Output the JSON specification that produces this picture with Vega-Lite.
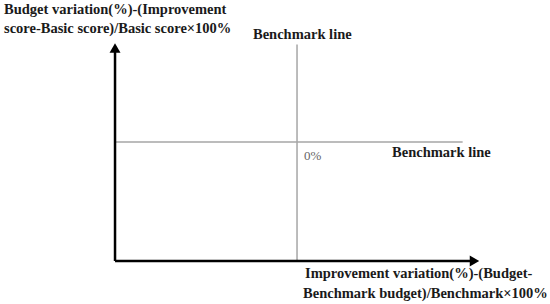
{
  "$schema": "https://vega.github.io/schema/vega-lite/v6.json",
  "width": 550,
  "height": 304,
  "autosize": "none",
  "padding": 0,
  "background": "white",
  "config": {"view": {"stroke": null}},
  "layer": [
    {
      "data": {"values": [
        {"name": "benchmark_x", "x": 0, "x2": 0, "y": -1, "y2": 0.82},
        {"name": "benchmark_y", "x": -1, "x2": 0.91, "y": 0, "y2": 0}
      ]},
      "mark": {"type": "rule", "color": "#a6a6a6", "strokeWidth": 1.5},
      "encoding": {
        "x": {"field": "x", "type": "quantitative", "scale": {"domain": [-1.632, 1.39], "nice": false, "zero": false}, "axis": null},
        "x2": {"field": "x2"},
        "y": {"field": "y", "type": "quantitative", "scale": {"domain": [-1.361, 1.193], "nice": false, "zero": false}, "axis": null},
        "y2": {"field": "y2"}
      }
    },
    {
      "data": {"values": [
        {"name": "y_axis", "x": -1, "x2": -1, "y": -1, "y2": 0.77},
        {"name": "x_axis", "x": -1, "x2": 0.96, "y": -1, "y2": -1}
      ]},
      "mark": {"type": "rule", "color": "black", "strokeWidth": 2.5},
      "encoding": {
        "x": {"field": "x", "type": "quantitative", "axis": null},
        "x2": {"field": "x2"},
        "y": {"field": "y", "type": "quantitative", "axis": null},
        "y2": {"field": "y2"}
      }
    },
    {
      "data": {"values": [
        {"name": "y_arrow", "x": -1, "y": 0.79, "shape": "triangle-up"},
        {"name": "x_arrow", "x": 0.975, "y": -1, "shape": "triangle-right"}
      ]},
      "mark": {"type": "point", "filled": true, "color": "black", "opacity": 1, "size": 120},
      "encoding": {
        "x": {"field": "x", "type": "quantitative", "axis": null},
        "y": {"field": "y", "type": "quantitative", "axis": null},
        "shape": {"field": "shape", "type": "nominal", "scale": null, "legend": null}
      }
    },
    {
      "data": {"values": [
        {"label": "Budget variation(%)-(Improvement", "x": -1.61, "y": 1.109},
        {"label": "score-Basic score)/Basic score×100%", "x": -1.61, "y": 0.95},
        {"label": "Benchmark line", "x": -0.242, "y": 0.899},
        {"label": "Benchmark line", "x": 0.522, "y": -0.092},
        {"label": "Improvement variation(%)-(Budget-", "x": 0.044, "y": -1.109},
        {"label": "Benchmark budget)/Benchmark×100%", "x": 0.033, "y": -1.277}
      ]},
      "mark": {"type": "text", "align": "left", "baseline": "middle", "font": "Liberation Serif", "fontWeight": "bold", "fontSize": 14.5, "color": "#1a1a1a"},
      "encoding": {
        "x": {"field": "x", "type": "quantitative", "axis": null},
        "y": {"field": "y", "type": "quantitative", "axis": null},
        "text": {"field": "label"}
      }
    },
    {
      "data": {"values": [
        {"label": "0%", "x": 0.038, "y": -0.118}
      ]},
      "mark": {"type": "text", "align": "left", "baseline": "middle", "font": "Liberation Sans Narrow", "fontSize": 13, "color": "#666666"},
      "encoding": {
        "x": {"field": "x", "type": "quantitative", "axis": null},
        "y": {"field": "y", "type": "quantitative", "axis": null},
        "text": {"field": "label"}
      }
    }
  ]
}
